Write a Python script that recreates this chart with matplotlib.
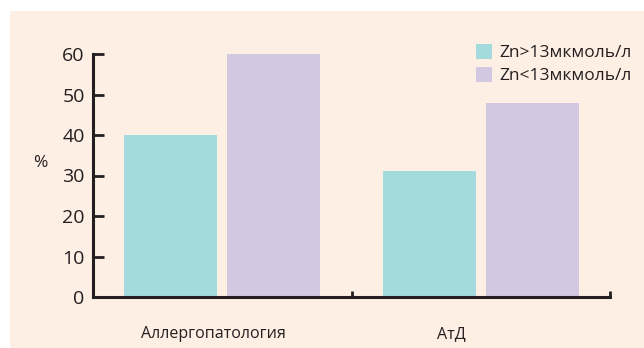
import matplotlib

matplotlib.use("Agg")
import matplotlib.pyplot as plt
from matplotlib.patches import Rectangle, Patch
import numpy as np

categories = ["Аллергопатология", "АтД"]
zn_high = [40, 31]
zn_low = [60, 48]
series_labels = ["Zn>13мкмоль/л", "Zn<13мкмоль/л"]
y_ticks = [0, 10, 20, 30, 40, 50, 60]

TEAL = "#a3dbdd"
LILAC = "#d3c8e2"
BG = "#fdefe3"
INK = "#231f20"

plt.rcParams["font.family"] = ["Open Sans", "DejaVu Sans"]

fig = plt.figure(figsize=(6.44, 3.48), dpi=100, facecolor="white")
fig.patches.append(Rectangle((10 / 644, 0), 1, 1 - 11 / 348,
                             transform=fig.transFigure, facecolor=BG,
                             edgecolor="none", zorder=-5))

ax = fig.add_axes([93 / 644, 1 - 297 / 348, 517 / 644, 243 / 348])
ax.set_facecolor("none")

x = np.arange(len(categories))
w = 0.36
ax.bar(x - 0.2, zn_high, w, color=TEAL, label=series_labels[0], zorder=2)
ax.bar(x + 0.2, zn_low, w, color=LILAC, label=series_labels[1], zorder=2)

ax.set_xlim(-0.5, 1.5)
ax.set_ylim(0, 60)

for s in ["top", "right"]:
    ax.spines[s].set_visible(False)
for s in ["left", "bottom"]:
    ax.spines[s].set_color(INK)
    ax.spines[s].set_linewidth(2.2)

ax.set_yticks(y_ticks)
ax.tick_params(axis="y", direction="in", length=8, width=2, color=INK,
               labelsize=14, labelcolor=INK, pad=6)

# category labels sit slightly left of group centres in the original
ax.set_xticks([-0.035, 0.885], categories)
ax.tick_params(axis="x", which="major", length=0, labelsize=11.5,
               labelcolor=INK, pad=21)
ax.set_xticks([0.5, 1.5], minor=True)
ax.tick_params(axis="x", which="minor", direction="in", length=4, width=2,
               color=INK)

fig.text(40 / 644, 1 - 163 / 348, "%", fontsize=12.5, color=INK,
         ha="center", va="center")

handles = [Patch(facecolor=TEAL, edgecolor="none"),
           Patch(facecolor=LILAC, edgecolor="none")]
fig.legend(handles, series_labels, loc="upper left",
           bbox_to_anchor=(469 / 644, 1 - 37 / 348), frameon=False,
           fontsize=12.5, handlelength=0.95, handleheight=0.95,
           handletextpad=0.4, labelspacing=0.3, borderaxespad=0,
           labelcolor=INK)

fig.savefig("out.png", dpi=100, facecolor="white")
